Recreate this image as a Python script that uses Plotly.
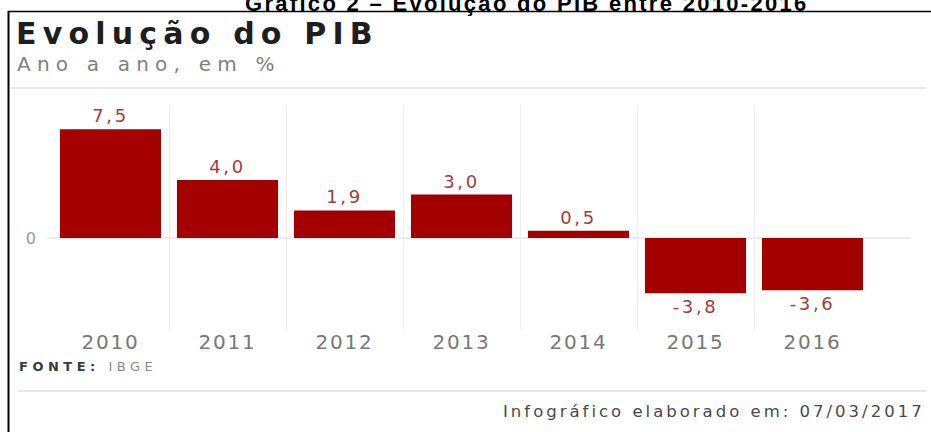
import plotly.graph_objects as go

# ---- data ----
anos = ["2010", "2011", "2012", "2013", "2014", "2015", "2016"]
pib = [7.5, 4.0, 1.9, 3.0, 0.5, -3.8, -3.6]

titulo_grafico = "Gráfico 2 – Evolução do PIB entre 2010-2016"
titulo = "Evolução do PIB"
subtitulo = "Ano a ano, em %"
fonte_rotulo = "FONTE:"
fonte_nome = "IBGE"
rodape = "Infográfico elaborado em: 07/03/2017"


def ls(txt, px):
    return f"<span style='letter-spacing:{px}px'>{txt}</span>"


rotulos = [ls(f"{v:.1f}".replace(".", ","), 2.6) for v in pib]
ticks_txt = [ls(a, 1.8) for a in anos]

W, H = 931, 432
L, R, T, B = 52, 60, 105, 102
PW = W - L - R
PH = H - T - B


def px_x(p):
    return (p - L) / PW


def px_y(p):
    return (H - B - p) / PH


BAR = "#a50000"
SANS = "DejaVu Sans"

fig = go.Figure(
    go.Bar(
        x=anos,
        y=pib,
        marker=dict(color=BAR, line=dict(width=0)),
        text=rotulos,
        textposition="outside",
        textfont=dict(family=SANS, size=18, color="#a83a3a"),
        cliponaxis=False,
        hoverinfo="skip",
    )
)

shapes = [
    # frame
    dict(type="line", xref="paper", yref="paper", x0=px_x(8), x1=px_x(935),
         y0=px_y(11.5), y1=px_y(11.5), line=dict(color="black", width=1.6)),
    dict(type="line", xref="paper", yref="paper", x0=px_x(8.5), x1=px_x(8.5),
         y0=px_y(11), y1=px_y(440), line=dict(color="black", width=2)),
    # separators
    dict(type="line", xref="paper", yref="paper", x0=px_x(11), x1=px_x(926),
         y0=px_y(88), y1=px_y(88), line=dict(color="#e8e8e8", width=2)),
    dict(type="line", xref="paper", yref="paper", x0=px_x(18), x1=px_x(926),
         y0=px_y(391), y1=px_y(391), line=dict(color="#e8e8e8", width=2)),
    # zero line
    dict(type="line", xref="paper", yref="y", x0=px_x(47), x1=px_x(910),
         y0=0, y1=0, line=dict(color="#e6e6e6", width=1.5), layer="below"),
]

annotations = [
    dict(text=ls(titulo_grafico, 2.3), xref="paper", yref="paper", x=px_x(527), y=px_y(3.5),
         xanchor="center", yanchor="middle", showarrow=False,
         font=dict(family="Liberation Sans", size=22, color="black", weight="bold")),
    dict(text=ls(titulo, 6.2), xref="paper", yref="paper", x=px_x(14), y=px_y(33.5),
         xanchor="left", yanchor="middle", showarrow=False,
         font=dict(family=SANS, size=30, color="#1e1e1e", weight="bold")),
    dict(text=ls(subtitulo, 6.2), xref="paper", yref="paper", x=px_x(15), y=px_y(64),
         xanchor="left", yanchor="middle", showarrow=False,
         font=dict(family=SANS, size=20, color="#808080")),
    dict(text=ls(f"<b>{fonte_rotulo}</b> <span style='fill:#8a8a8a'>{fonte_nome}</span>", 4.5),
         xref="paper", yref="paper", x=px_x(17), y=px_y(366),
         xanchor="left", yanchor="middle", showarrow=False,
         font=dict(family=SANS, size=13, color="#3a3a3a")),
    dict(text=ls(rodape, 3.0), xref="paper", yref="paper", x=px_x(927), y=px_y(411),
         xanchor="right", yanchor="middle", showarrow=False,
         font=dict(family=SANS, size=16.5, color="#4a4a4a")),
]

fig.update_layout(
    width=W,
    height=H,
    margin=dict(l=L, r=R, t=T, b=B, pad=0),
    paper_bgcolor="white",
    plot_bgcolor="white",
    showlegend=False,
    bargap=0.136,
    shapes=shapes,
    annotations=annotations,
    xaxis=dict(
        type="category",
        tickson="boundaries",
        tickvals=anos,
        ticktext=ticks_txt,
        showgrid=True,
        gridcolor="#eeeeee",
        gridwidth=1,
        showline=False,
        zeroline=False,
        ticks="",
        tickfont=dict(family=SANS, size=20, color="#777777"),
        ticklabelstandoff=-2,
    ),
    yaxis=dict(
        range=[-6.34, 9.17],
        tickvals=[0],
        ticktext=["0"],
        showgrid=False,
        zeroline=False,
        showline=False,
        tickfont=dict(family=SANS, size=16, color="#999999"),
        ticklabelstandoff=15,
    ),
)

fig.write_html("out.html")
